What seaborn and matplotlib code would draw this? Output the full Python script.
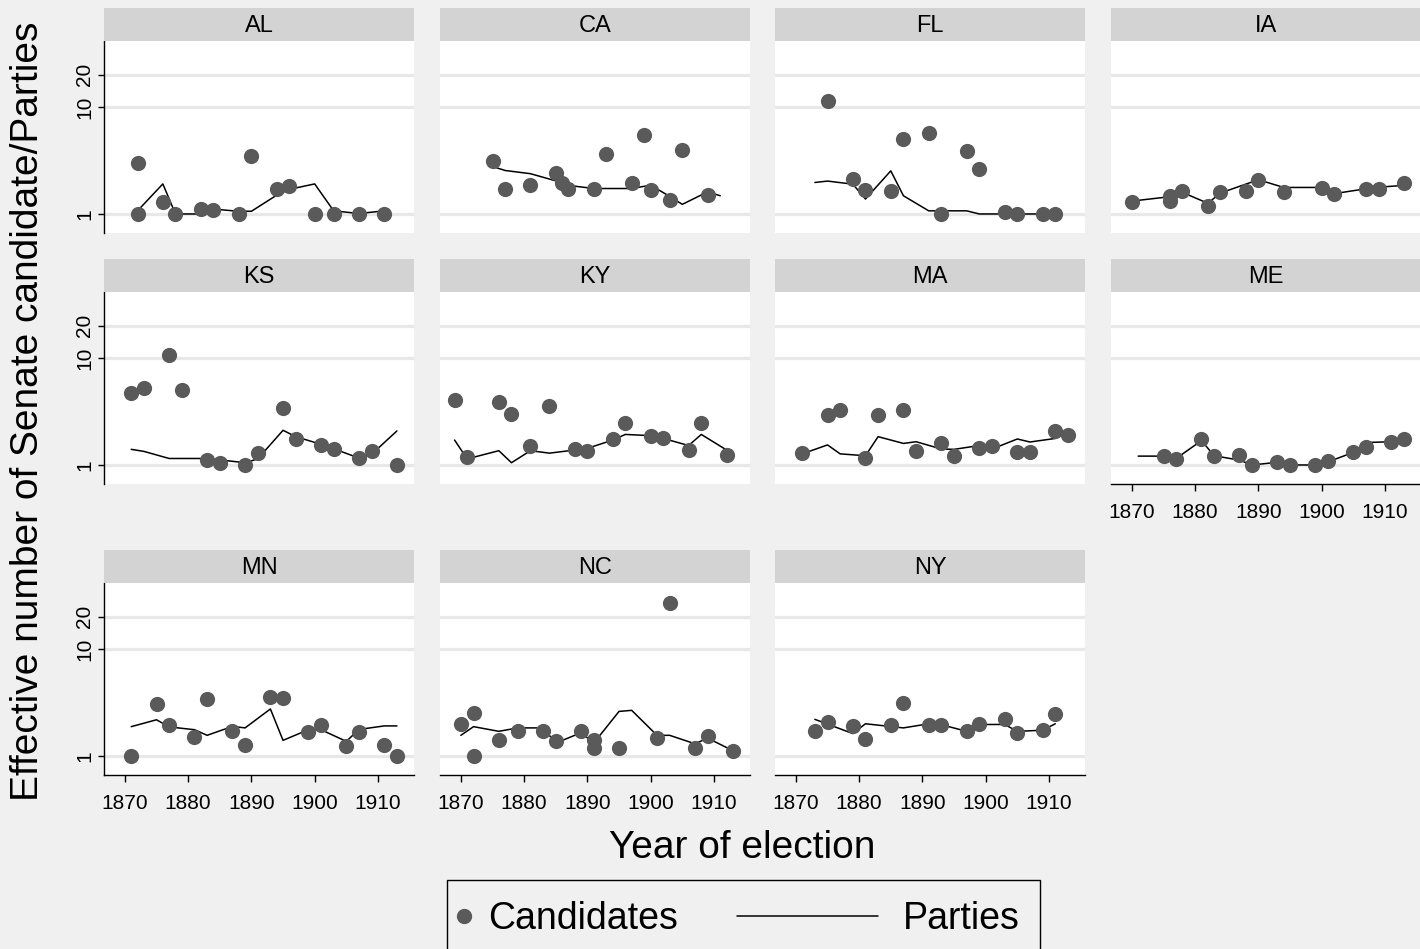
import numpy as np
import pandas as pd
import matplotlib
matplotlib.use('Agg')
import matplotlib.pyplot as plt
import seaborn as sns
from matplotlib.lines import Line2D
from matplotlib.legend_handler import HandlerLine2D

# Datos: años y número efectivo (candidatos = puntos, partidos = línea)
al_cand_yr = [1872, 1872, 1876, 1878, 1882, 1884, 1888, 1890, 1894, 1896, 1900, 1903, 1907, 1911]
al_cand = [2.99, 1.0, 1.29, 1.0, 1.12, 1.09, 1.0, 3.45, 1.70, 1.81, 1.0, 1.0, 1.0, 1.0]
al_party_yr = [1872, 1876, 1878, 1882, 1884, 1888, 1890, 1894, 1896, 1900, 1903, 1907, 1911]
al_party = [1.07, 1.91, 1.0, 1.0, 1.11, 1.06, 1.06, 1.50, 1.70, 1.91, 1.07, 1.01, 1.07]

ca_cand_yr = [1875, 1877, 1881, 1885, 1886, 1887, 1891, 1893, 1897, 1899, 1900, 1903, 1905, 1909]
ca_cand = [3.12, 1.73, 1.88, 2.43, 1.94, 1.72, 1.73, 3.65, 1.96, 5.49, 1.67, 1.34, 4.00, 1.49]
ca_party_yr = [1875, 1877, 1881, 1885, 1887, 1891, 1897, 1900, 1903, 1905, 1909, 1911]
ca_party = [2.78, 2.55, 2.38, 2.04, 1.85, 1.73, 1.73, 1.86, 1.46, 1.23, 1.61, 1.48]

fl_cand_yr = [1875, 1879, 1881, 1885, 1887, 1891, 1893, 1897, 1899, 1903, 1905, 1909, 1911]
fl_cand = [11.5, 2.12, 1.69, 1.65, 5.0, 5.77, 1.0, 3.84, 2.64, 1.04, 1.0, 1.0, 1.0]
fl_party_yr = [1873, 1875, 1879, 1881, 1885, 1887, 1891, 1893, 1897, 1899, 1903, 1905, 1909, 1911]
fl_party = [1.97, 2.03, 1.90, 1.38, 2.53, 1.48, 1.07, 1.07, 1.07, 1.0, 1.0, 1.0, 1.0, 1.0]

ia_cand_yr = [1870, 1876, 1876, 1878, 1882, 1884, 1888, 1890, 1894, 1900, 1902, 1907, 1909, 1913]
ia_cand = [1.30, 1.46, 1.31, 1.64, 1.19, 1.59, 1.65, 2.09, 1.60, 1.75, 1.55, 1.71, 1.71, 1.93]
ia_party_yr = [1870, 1876, 1878, 1882, 1884, 1890, 1894, 1900, 1902, 1907, 1909, 1913]
ia_party = [1.32, 1.45, 1.59, 1.26, 1.57, 2.09, 1.77, 1.77, 1.55, 1.72, 1.78, 1.85]

ks_cand_yr = [1871, 1873, 1877, 1879, 1883, 1885, 1889, 1891, 1895, 1897, 1901, 1903, 1907, 1909, 1913]
ks_cand = [4.74, 5.28, 10.7, 4.99, 1.11, 1.04, 1.0, 1.29, 3.43, 1.74, 1.54, 1.41, 1.15, 1.34, 1.0]
ks_party_yr = [1871, 1873, 1877, 1883, 1889, 1891, 1895, 1897, 1901, 1903, 1907, 1909, 1913]
ks_party = [1.40, 1.34, 1.15, 1.15, 1.05, 1.14, 2.11, 1.84, 1.56, 1.42, 1.16, 1.26, 2.08]

ky_cand_yr = [1869, 1871, 1876, 1878, 1881, 1884, 1888, 1890, 1894, 1896, 1900, 1902, 1906, 1908, 1912]
ky_cand = [4.02, 1.18, 3.85, 3.0, 1.50, 3.56, 1.40, 1.35, 1.74, 2.47, 1.85, 1.77, 1.39, 2.49, 1.24]
ky_party_yr = [1869, 1871, 1876, 1878, 1881, 1884, 1888, 1890, 1894, 1896, 1900, 1902, 1906, 1908, 1912]
ky_party = [1.71, 1.14, 1.36, 1.05, 1.36, 1.29, 1.38, 1.43, 1.71, 1.93, 1.88, 1.77, 1.52, 1.93, 1.38]

ma_cand_yr = [1871, 1875, 1877, 1881, 1883, 1887, 1889, 1893, 1895, 1899, 1901, 1905, 1907, 1911, 1913]
ma_cand = [1.29, 2.93, 3.24, 1.17, 2.93, 3.24, 1.35, 1.62, 1.22, 1.43, 1.52, 1.33, 1.33, 2.09, 1.89]
ma_party_yr = [1871, 1875, 1877, 1881, 1883, 1887, 1889, 1893, 1895, 1899, 1901, 1905, 1907, 1911, 1913]
ma_party = [1.27, 1.54, 1.27, 1.22, 1.84, 1.59, 1.65, 1.41, 1.40, 1.52, 1.41, 1.75, 1.64, 1.77, 2.15]

me_cand_yr = [1875, 1877, 1881, 1883, 1887, 1889, 1893, 1895, 1899, 1901, 1905, 1907, 1911, 1913]
me_cand = [1.22, 1.14, 1.75, 1.22, 1.24, 1.0, 1.06, 1.0, 1.0, 1.09, 1.31, 1.48, 1.63, 1.76]
me_party_yr = [1871, 1875, 1877, 1881, 1883, 1887, 1889, 1893, 1895, 1899, 1901, 1905, 1907, 1911, 1913]
me_party = [1.21, 1.21, 1.15, 1.69, 1.22, 1.11, 1.0, 1.06, 1.0, 1.0, 1.07, 1.31, 1.62, 1.65, 1.76]

mn_cand_yr = [1871, 1875, 1877, 1881, 1883, 1887, 1889, 1893, 1895, 1899, 1901, 1905, 1907, 1911, 1913]
mn_cand = [1.0, 3.04, 1.93, 1.50, 3.38, 1.71, 1.27, 3.58, 3.48, 1.68, 1.93, 1.25, 1.68, 1.27, 1.0]
mn_party_yr = [1871, 1875, 1877, 1881, 1883, 1887, 1889, 1893, 1895, 1899, 1901, 1905, 1907, 1911, 1913]
mn_party = [1.88, 2.18, 1.87, 1.76, 1.56, 1.89, 1.83, 2.75, 1.40, 1.76, 1.76, 1.37, 1.77, 1.91, 1.91]

nc_cand_yr = [1870, 1872, 1872, 1876, 1879, 1883, 1885, 1889, 1891, 1891, 1895, 1901, 1903, 1907, 1909, 1913]
nc_cand = [2.0, 2.50, 1.0, 1.40, 1.70, 1.70, 1.37, 1.70, 1.40, 1.20, 1.20, 1.47, 26.9, 1.19, 1.53, 1.12]
nc_party_yr = [1870, 1872, 1876, 1879, 1883, 1885, 1889, 1891, 1895, 1897, 1901, 1903, 1907, 1909, 1913]
nc_party = [1.56, 1.88, 1.70, 1.83, 1.83, 1.32, 1.65, 1.32, 2.61, 2.67, 1.56, 1.56, 1.30, 1.47, 1.12]

ny_cand_yr = [1873, 1875, 1879, 1881, 1885, 1887, 1891, 1893, 1897, 1899, 1903, 1905, 1909, 1911]
ny_cand = [1.71, 2.08, 1.89, 1.45, 1.93, 3.15, 1.93, 1.93, 1.71, 2.0, 2.23, 1.65, 1.74, 2.45]
ny_party_yr = [1873, 1879, 1881, 1887, 1891, 1893, 1897, 1899, 1903, 1905, 1909, 1911]
ny_party = [2.20, 1.62, 2.0, 1.83, 2.0, 1.96, 1.70, 1.97, 1.97, 1.70, 1.74, 2.0]

states = ['AL', 'CA', 'FL', 'IA', 'KS', 'KY', 'MA', 'ME', 'MN', 'NC', 'NY']
year_ticks = [1870, 1880, 1890, 1900, 1910]
y_ticks = [1, 10, 20]
y_tick_labels = ['1', '10', '20']

# Armar tablas largas
series = [
    ('AL', al_cand_yr, al_cand, al_party_yr, al_party),
    ('CA', ca_cand_yr, ca_cand, ca_party_yr, ca_party),
    ('FL', fl_cand_yr, fl_cand, fl_party_yr, fl_party),
    ('IA', ia_cand_yr, ia_cand, ia_party_yr, ia_party),
    ('KS', ks_cand_yr, ks_cand, ks_party_yr, ks_party),
    ('KY', ky_cand_yr, ky_cand, ky_party_yr, ky_party),
    ('MA', ma_cand_yr, ma_cand, ma_party_yr, ma_party),
    ('ME', me_cand_yr, me_cand, me_party_yr, me_party),
    ('MN', mn_cand_yr, mn_cand, mn_party_yr, mn_party),
    ('NC', nc_cand_yr, nc_cand, nc_party_yr, nc_party),
    ('NY', ny_cand_yr, ny_cand, ny_party_yr, ny_party),
]
cands = pd.concat([pd.DataFrame({'state': s, 'year': cy, 'value': cv}) for s, cy, cv, _, _ in series])
parties = pd.concat([pd.DataFrame({'state': s, 'year': py, 'value': pv}) for s, _, _, py, pv in series])

sns.set_style('white')
plt.rcParams['font.family'] = ['Liberation Sans', 'DejaVu Sans']
plt.rcParams['text.color'] = 'black'
plt.rcParams['xtick.color'] = 'black'
plt.rcParams['ytick.color'] = 'black'
plt.rcParams['axes.labelcolor'] = 'black'

BG = '#F0F0F0'
PT = '#5A5A5A'
GRID = '#E8E8E8'
W, H = 1420, 949

fig = plt.figure(figsize=(W / 100, H / 100), dpi=100, facecolor=BG)

col_left = [104, 440, 775, 1111]
row_top = [41, 292, 583]
pw, ph, sh = 310, 192, 33

for i, st in enumerate(states):
    r, c = divmod(i, 4)
    left, top = col_left[c], row_top[r]
    ax = fig.add_axes([left / W, 1 - (top + ph) / H, pw / W, ph / H])
    strip = fig.add_axes([left / W, 1 - top / H, pw / W, sh / H])
    strip.set_facecolor('#D3D3D3')
    strip.set_xticks([]); strip.set_yticks([])
    for sp in strip.spines.values():
        sp.set_visible(False)
    strip.text(0.5, 0.45, st, ha='center', va='center', fontsize=17, color='black',
               transform=strip.transAxes)

    sns.lineplot(data=parties[parties.state == st], x='year', y='value', ax=ax,
                 color='black', lw=1.1, estimator=None, zorder=2)
    sns.scatterplot(data=cands[cands.state == st], x='year', y='value', ax=ax,
                    color=PT, s=120, linewidth=0, zorder=3)

    ax.set_facecolor('white')
    ax.set_yscale('log')
    ax.set_ylim(0.664, 41.4)
    ax.set_xlim(1866.7, 1915.7)
    ax.set_yticks(y_ticks)
    ax.yaxis.set_minor_locator(matplotlib.ticker.NullLocator())
    ax.set_xlabel('')
    ax.set_ylabel('')
    ax.grid(axis='y', color=GRID, linewidth=2.3)
    ax.grid(axis='x', visible=False)
    ax.set_axisbelow(True)
    for sp in ['top', 'right']:
        ax.spines[sp].set_visible(False)

    # eje y solo en la primera columna
    if c == 0:
        ax.spines['left'].set_color('black')
        ax.spines['left'].set_linewidth(1.0)
        ax.set_yticklabels(y_tick_labels, rotation=90, va='center')
        ax.tick_params(axis='y', left=True, direction='out', length=4, width=1, pad=3, labelsize=15)
    else:
        ax.spines['left'].set_visible(False)
        ax.tick_params(axis='y', left=False, labelleft=False)

    # eje x solo en el último panel de cada columna
    ax.set_xticks(year_ticks)
    if i >= 7:
        ax.spines['bottom'].set_color('black')
        ax.spines['bottom'].set_linewidth(1.0)
        ax.tick_params(axis='x', bottom=True, direction='out', length=5, width=1, pad=9, labelsize=15)
    else:
        ax.spines['bottom'].set_visible(False)
        ax.tick_params(axis='x', bottom=False, labelbottom=False)

fig.text(28 / W, 1 - 411 / H, 'Effective number of Senate candidate/Parties',
         rotation=90, ha='center', va='center', fontsize=28)
fig.text(742 / W, 1 - 848 / H, 'Year of election', ha='center', va='center', fontsize=28)


# Leyenda estilo Stata: punto pegado al texto, línea larga antes de "Parties"
class CandHandler(HandlerLine2D):
    def create_artists(self, legend, orig_handle, xdescent, ydescent, width, height, fontsize, trans):
        y = (height - ydescent) / 2
        mk = Line2D([-xdescent - 0.1 * fontsize], [y], marker='o', linestyle='none',
                    color=PT, markersize=10)
        mk.set_transform(trans)
        return [mk]


class PartiesHandler(HandlerLine2D):
    def create_artists(self, legend, orig_handle, xdescent, ydescent, width, height, fontsize, trans):
        y = (height - ydescent) / 2
        line = Line2D([-xdescent - 3.86 * fontsize, -xdescent - 0.1 * fontsize], [y, y],
                      color='black', lw=1.1)
        line.set_transform(trans)
        return [line]


h_cand = Line2D([], [], marker='o', linestyle='none', color=PT, markersize=10)
h_party = Line2D([], [], color='black', lw=1.1)
leg = fig.legend([h_cand, h_party], ['Candidates', 'Parties'], ncol=2,
                 loc='upper left', bbox_to_anchor=(447 / W, 1 - 880 / H), borderaxespad=0,
                 fontsize=27, handlelength=0.3, handletextpad=0.25, columnspacing=5.43,
                 borderpad=0.55, frameon=True, fancybox=False, facecolor=BG, framealpha=1,
                 edgecolor='black',
                 handler_map={h_cand: CandHandler(), h_party: PartiesHandler()})
leg.get_frame().set_linewidth(1.0)

fig.savefig('out.png', dpi=100, facecolor=BG)
